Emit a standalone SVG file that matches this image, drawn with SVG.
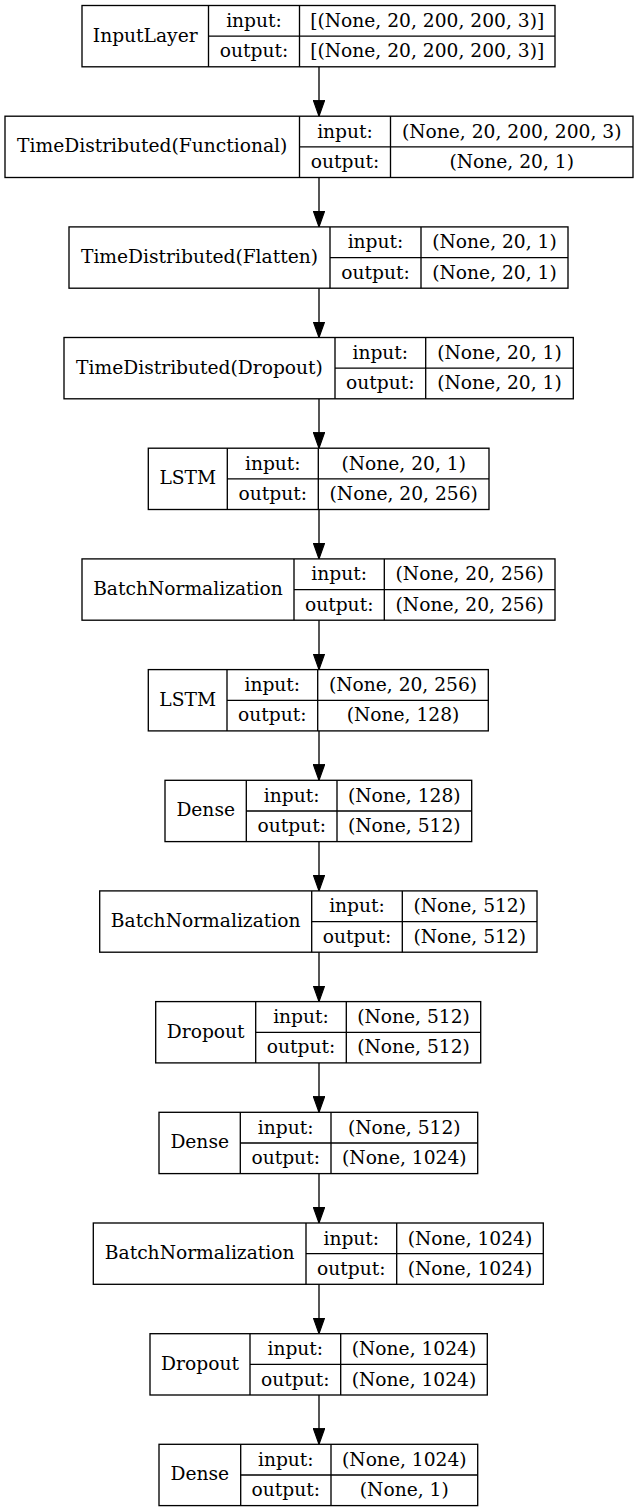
<svg xmlns="http://www.w3.org/2000/svg" width="637" height="1512" viewBox="0 0 637 1512">
<style>
.box{fill:#fff;stroke:#000;stroke-width:1.33}
.ln{stroke:#000;stroke-width:1.33;fill:none}
text{font-family:"DejaVu Serif","Liberation Serif",serif;font-size:18.67px;fill:#000;text-anchor:middle}
.edge{stroke:#000;stroke-width:1.33;fill:none}
</style>
<defs>
<marker id="ah" markerUnits="userSpaceOnUse" markerWidth="12" markerHeight="16" refX="5" refY="14" orient="0" viewBox="0 0 10 14">
<path d="M0,0 L10,0 L5,14 Z" fill="#000" stroke="#000" stroke-width="1"/>
</marker>
</defs>
<rect width="637" height="1512" fill="#fff"/>
<g id="connectors">
<line class="edge" x1="319" y1="66.8" x2="319" y2="116.2" marker-end="url(#ah)"/>
<line class="edge" x1="319" y1="177.5" x2="319" y2="226.9" marker-end="url(#ah)"/>
<line class="edge" x1="319" y1="288.2" x2="319" y2="337.5" marker-end="url(#ah)"/>
<line class="edge" x1="319" y1="398.8" x2="319" y2="448.2" marker-end="url(#ah)"/>
<line class="edge" x1="319" y1="509.5" x2="319" y2="558.9" marker-end="url(#ah)"/>
<line class="edge" x1="319" y1="620.2" x2="319" y2="669.6" marker-end="url(#ah)"/>
<line class="edge" x1="319" y1="730.9" x2="319" y2="780.3" marker-end="url(#ah)"/>
<line class="edge" x1="319" y1="841.6" x2="319" y2="890.9" marker-end="url(#ah)"/>
<line class="edge" x1="319" y1="952.2" x2="319" y2="1001.6" marker-end="url(#ah)"/>
<line class="edge" x1="319" y1="1062.9" x2="319" y2="1112.3" marker-end="url(#ah)"/>
<line class="edge" x1="319" y1="1173.6" x2="319" y2="1223" marker-end="url(#ah)"/>
<line class="edge" x1="319" y1="1284.3" x2="319" y2="1333.7" marker-end="url(#ah)"/>
<line class="edge" x1="319" y1="1395" x2="319" y2="1444.3" marker-end="url(#ah)"/>
</g>
<g id="n1">
<rect class="box" x="82" y="5.5" width="473" height="61.3"/>
<path class="ln" d="M208.5,5.5V66.8M299.5,5.5V66.8M208.5,36.2H555"/>
<text x="145.2" y="41.5">InputLayer</text>
<text x="254" y="27">input:</text><text x="254" y="57.3">output:</text>
<text x="427.2" y="27">[(None, 20, 200, 200, 3)]</text><text x="427.2" y="57.3">[(None, 20, 200, 200, 3)]</text>
</g>
<g id="n2">
<rect class="box" x="5" y="116.2" width="628" height="61.3"/>
<path class="ln" d="M299.5,116.2V177.5M390.5,116.2V177.5M299.5,146.9H633"/>
<text x="152.2" y="152.2">TimeDistributed(Functional)</text>
<text x="345" y="137.7">input:</text><text x="345" y="168">output:</text>
<text x="511.7" y="137.7">(None, 20, 200, 200, 3)</text><text x="511.7" y="168">(None, 20, 1)</text>
</g>
<g id="n3">
<rect class="box" x="69" y="226.9" width="499" height="61.3"/>
<path class="ln" d="M330,226.9V288.2M421,226.9V288.2M330,257.6H568"/>
<text x="199.5" y="262.9">TimeDistributed(Flatten)</text>
<text x="375.5" y="248.4">input:</text><text x="375.5" y="278.7">output:</text>
<text x="494.5" y="248.4">(None, 20, 1)</text><text x="494.5" y="278.7">(None, 20, 1)</text>
</g>
<g id="n4">
<rect class="box" x="64" y="337.5" width="509.3" height="61.3"/>
<path class="ln" d="M335,337.5V398.8M425.7,337.5V398.8M335,368.2H573.3"/>
<text x="199.5" y="373.5">TimeDistributed(Dropout)</text>
<text x="380.3" y="359">input:</text><text x="380.3" y="389.3">output:</text>
<text x="499.5" y="359">(None, 20, 1)</text><text x="499.5" y="389.3">(None, 20, 1)</text>
</g>
<g id="n5">
<rect class="box" x="148.3" y="448.2" width="340.7" height="61.3"/>
<path class="ln" d="M227.3,448.2V509.5M318.3,448.2V509.5M227.3,478.9H489"/>
<text x="187.8" y="484.2">LSTM</text>
<text x="272.8" y="469.7">input:</text><text x="272.8" y="500">output:</text>
<text x="403.7" y="469.7">(None, 20, 1)</text><text x="403.7" y="500">(None, 20, 256)</text>
</g>
<g id="n6">
<rect class="box" x="82" y="558.9" width="473" height="61.3"/>
<path class="ln" d="M294,558.9V620.2M384.3,558.9V620.2M294,589.6H555"/>
<text x="188" y="594.9">BatchNormalization</text>
<text x="339.2" y="580.4">input:</text><text x="339.2" y="610.7">output:</text>
<text x="469.7" y="580.4">(None, 20, 256)</text><text x="469.7" y="610.7">(None, 20, 256)</text>
</g>
<g id="n7">
<rect class="box" x="148.3" y="669.6" width="340" height="61.3"/>
<path class="ln" d="M227,669.6V730.9M317.7,669.6V730.9M227,700.3H488.3"/>
<text x="187.7" y="705.6">LSTM</text>
<text x="272.3" y="691.1">input:</text><text x="272.3" y="721.4">output:</text>
<text x="403" y="691.1">(None, 20, 256)</text><text x="403" y="721.4">(None, 128)</text>
</g>
<g id="n8">
<rect class="box" x="165" y="780.3" width="306.7" height="61.3"/>
<path class="ln" d="M246.3,780.3V841.6M337,780.3V841.6M246.3,811H471.7"/>
<text x="205.7" y="816.3">Dense</text>
<text x="291.7" y="801.8">input:</text><text x="291.7" y="832.1">output:</text>
<text x="404.3" y="801.8">(None, 128)</text><text x="404.3" y="832.1">(None, 512)</text>
</g>
<g id="n9">
<rect class="box" x="99.7" y="890.9" width="437.3" height="61.3"/>
<path class="ln" d="M311.7,890.9V952.2M402.3,890.9V952.2M311.7,921.6H537"/>
<text x="205.7" y="926.9">BatchNormalization</text>
<text x="357" y="912.4">input:</text><text x="357" y="942.7">output:</text>
<text x="469.7" y="912.4">(None, 512)</text><text x="469.7" y="942.7">(None, 512)</text>
</g>
<g id="n10">
<rect class="box" x="155.7" y="1001.6" width="325" height="61.3"/>
<path class="ln" d="M255.7,1001.6V1062.9M346.3,1001.6V1062.9M255.7,1032.3H480.7"/>
<text x="205.7" y="1037.6">Dropout</text>
<text x="301" y="1023.1">input:</text><text x="301" y="1053.4">output:</text>
<text x="413.5" y="1023.1">(None, 512)</text><text x="413.5" y="1053.4">(None, 512)</text>
</g>
<g id="n11">
<rect class="box" x="159" y="1112.3" width="318.7" height="61.3"/>
<path class="ln" d="M240.3,1112.3V1173.6M331,1112.3V1173.6M240.3,1143H477.7"/>
<text x="199.7" y="1148.3">Dense</text>
<text x="285.7" y="1133.8">input:</text><text x="285.7" y="1164.1">output:</text>
<text x="404.3" y="1133.8">(None, 512)</text><text x="404.3" y="1164.1">(None, 1024)</text>
</g>
<g id="n12">
<rect class="box" x="93.3" y="1223" width="450" height="61.3"/>
<path class="ln" d="M306,1223V1284.3M396.7,1223V1284.3M306,1253.7H543.3"/>
<text x="199.7" y="1259">BatchNormalization</text>
<text x="351.3" y="1244.5">input:</text><text x="351.3" y="1274.8">output:</text>
<text x="470" y="1244.5">(None, 1024)</text><text x="470" y="1274.8">(None, 1024)</text>
</g>
<g id="n13">
<rect class="box" x="150" y="1333.7" width="337.3" height="61.3"/>
<path class="ln" d="M250,1333.7V1395M340.7,1333.7V1395M250,1364.4H487.3"/>
<text x="200" y="1369.7">Dropout</text>
<text x="295.3" y="1355.2">input:</text><text x="295.3" y="1385.5">output:</text>
<text x="414" y="1355.2">(None, 1024)</text><text x="414" y="1385.5">(None, 1024)</text>
</g>
<g id="n14">
<rect class="box" x="159" y="1444.3" width="318.7" height="61.3"/>
<path class="ln" d="M240.7,1444.3V1505.6M331,1444.3V1505.6M240.7,1475H477.7"/>
<text x="199.8" y="1480.3">Dense</text>
<text x="285.8" y="1465.8">input:</text><text x="285.8" y="1496.1">output:</text>
<text x="404.3" y="1465.8">(None, 1024)</text><text x="404.3" y="1496.1">(None, 1)</text>
</g>
</svg>
